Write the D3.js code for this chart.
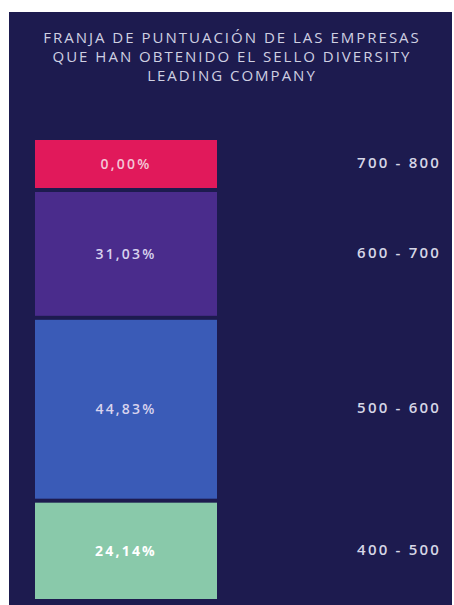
<!DOCTYPE html>
<html><head><meta charset="utf-8">
<script src="https://cdn.jsdelivr.net/npm/d3@7"></script>
<style>body{margin:0;background:#fff;}svg{display:block;}</style>
</head><body>
<svg id="c" width="454" height="605"></svg>
<script>
const titleLines = ["FRANJA DE PUNTUACIÓN DE LAS EMPRESAS", "QUE HAN OBTENIDO EL SELLO DIVERSITY", "LEADING COMPANY"];
const ranges = ["700 - 800", "600 - 700", "500 - 600", "400 - 500"];
const values = [0.00, 31.03, 44.83, 24.14];
const colors = ["#e1195b", "#4a2c8c", "#3a5bb7", "#89c9aa"];

(function () {
const svg = d3.select("#c");
svg.append("rect").attr("x", 9).attr("y", 12).attr("width", 443).attr("height", 593).attr("fill", "#1d1b4f");

const title = svg.append("text").attr("text-anchor", "middle").attr("fill", "#cfd0e2")
  .style("font-family", "'Open Sans', sans-serif").style("font-size", "15px").style("letter-spacing", "2px");
titleLines.forEach((t, i) => title.append("tspan").attr("x", 232).attr("y", 43 + i * 19).text(t));

const gap = 4, minH = 48, startY = 140;
const h = d3.scaleLinear().domain([0, 100]).range([0, 399]);
const heights = values.map(v => v === 0 ? minH : h(v));
const ys = []; let cur = startY;
heights.forEach((hh) => { ys.push(cur); cur += hh + gap; });

const g = svg.append("g");
g.selectAll("rect.bar").data(values).join("rect").attr("class", "bar")
  .attr("x", 35).attr("width", 182)
  .attr("y", (d, i) => ys[i]).attr("height", (d, i) => heights[i])
  .attr("fill", (d, i) => colors[i]);

const fmt = v => v.toFixed(2).replace(".", ",") + "%";
g.selectAll("text.pct").data(values).join("text").attr("class", "pct")
  .attr("x", 126).attr("y", (d, i) => ys[i] + heights[i] / 2).attr("dy", "0.35em")
  .attr("text-anchor", "middle")
  .attr("fill", (d, i) => i === 0 ? "#f4c6d6" : (i === 3 ? "#ffffff" : "#d8d3ee"))
  .style("font-family", "'Open Sans', sans-serif")
  .style("font-size", "14px").style("font-weight", (d, i) => i === 3 ? 700 : 600)
  .style("letter-spacing", "2.2px")
  .text(d => fmt(d));

g.selectAll("text.rng").data(ranges).join("text").attr("class", "rng")
  .attr("x", 441).attr("y", (d, i) => ys[i] + heights[i] / 2 - 1).attr("dy", "0.35em")
  .attr("text-anchor", "end").attr("fill", "#d6d6e6")
  .style("font-family", "'Open Sans', sans-serif")
  .style("font-size", "15px").style("font-weight", 600)
  .style("letter-spacing", "2.2px")
  .text(d => d);
})();
</script>
</body></html>
